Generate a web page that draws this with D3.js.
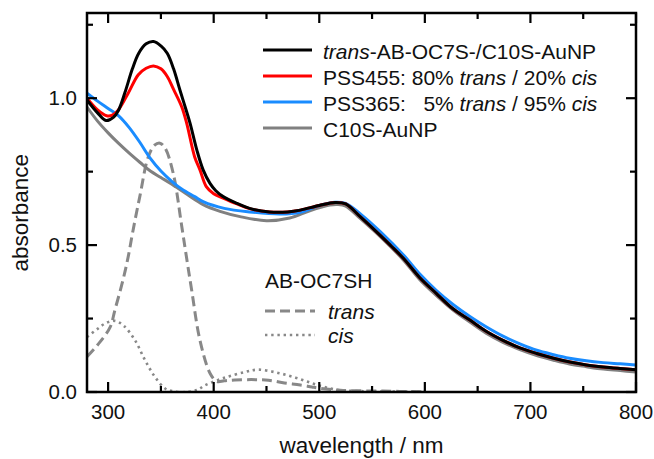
<!DOCTYPE html>
<html>
<head>
<meta charset="utf-8">
<script src="https://cdn.jsdelivr.net/npm/d3@7"></script>
<style>
  body { margin: 0; background: #fff; }
  text { font-family: Arial, "Liberation Sans", sans-serif; }
</style>
</head>
<body>
<svg id="chart"></svg>
<script>
// spectra: [wavelength nm, absorbance]
let transAuNP = [[280,0.994],[290,0.95],[298,0.924],[305,0.935],[310,0.96],[316,1.02],[323,1.1],[329,1.153],[336,1.185],[343,1.193],[350,1.178],[356,1.153],[362,1.1],[368,1.028],[373,0.97],[377.6,0.915],[384,0.824],[390,0.756],[396.5,0.71],[402,0.685],[409,0.665],[422,0.642],[434,0.625],[453,0.613],[470,0.613],[482,0.619],[500,0.635],[515,0.645],[525,0.64],[539,0.596],[557.5,0.534],[568,0.497],[579.6,0.455],[595,0.39],[611,0.335],[626,0.285],[643,0.244],[658,0.207],[674,0.176],[690,0.15],[706,0.131],[722,0.115],[737.5,0.102],[753,0.092],[769,0.085],[785,0.08],[800,0.076]];
let pss455 = [[280,1.0],[290,0.96],[298.6,0.94],[304,0.942],[309.7,0.96],[319,1.017],[328.6,1.08],[336,1.102],[343,1.11],[350,1.1],[356,1.074],[362,1.03],[369.7,0.971],[374.4,0.915],[382,0.8],[387,0.756],[393,0.699],[400,0.675],[409,0.66],[422,0.64],[434,0.624],[453,0.613],[470,0.613],[482,0.619],[500,0.635],[515,0.645],[525,0.64],[539,0.596],[557.5,0.534],[568,0.497],[579.6,0.455],[595,0.39],[611,0.335],[626,0.285],[643,0.244],[658,0.207],[674,0.176],[690,0.15],[706,0.131],[722,0.115],[737.5,0.102],[753,0.092],[769,0.085],[785,0.08],[800,0.076]];
let pss365 = [[280,1.017],[290,0.99],[300,0.965],[310,0.94],[320,0.9],[330,0.85],[340,0.795],[350,0.752],[360,0.718],[370,0.69],[382,0.665],[390,0.648],[410,0.625],[434,0.613],[463,0.606],[482,0.612],[500,0.635],[515,0.646],[525,0.642],[540,0.603],[558,0.545],[580,0.465],[595,0.402],[611,0.345],[627,0.297],[643,0.256],[658,0.222],[674,0.19],[690,0.164],[706,0.142],[722,0.127],[737,0.115],[753,0.106],[769,0.1],[785,0.096],[800,0.092]];
let auNP = [[280,0.97],[290,0.922],[300,0.882],[310,0.846],[320,0.813],[330,0.782],[340,0.752],[350,0.73],[360,0.708],[375,0.672],[390,0.638],[406,0.615],[425,0.597],[450,0.583],[472,0.592],[491,0.617],[510,0.636],[517,0.638],[525,0.633],[539,0.59],[558,0.528],[580,0.448],[595,0.383],[611,0.328],[627,0.278],[643,0.237],[658,0.2],[674,0.169],[690,0.144],[706,0.124],[722,0.108],[737,0.095],[753,0.086],[769,0.078],[785,0.073],[800,0.068]];
let transFree = [[280,0.12],[290,0.16],[301.8,0.22],[306.5,0.28],[314,0.38],[319,0.46],[323.6,0.55],[330,0.665],[338,0.8],[344,0.84],[349,0.847],[354,0.83],[361.7,0.744],[369.7,0.565],[374.4,0.455],[379,0.35],[387,0.176],[396.5,0.064],[403,0.036],[410,0.038],[420,0.041],[440,0.042],[452,0.04],[467,0.031],[482,0.024],[493,0.017],[500,0.013],[520,0.006],[560,0.003],[600,0.001]];
let cisFree = [[280,0.187],[290,0.215],[298,0.235],[306.5,0.242],[315,0.225],[325.5,0.176],[335,0.108],[344.4,0.051],[354,0.012],[362,0.002],[375,0.0],[385,0.008],[391.8,0.023],[410.7,0.049],[429.6,0.068],[442,0.076],[461,0.065],[480,0.046],[499,0.023],[518,0.007],[540,0.003],[600,0.001]];

let seriesNames = ["trans-AB-OC7S-/C10S-AuNP", "PSS455: 80% trans / 20% cis", "PSS365:   5% trans / 95% cis", "C10S-AuNP"];
let xTicks = [300, 400, 500, 600, 700, 800];
let yTicks = [0.0, 0.5, 1.0];

let W = 654, H = 459;
let margin = {top: 13, right: 18, bottom: 67, left: 87},
    width = W - margin.left - margin.right,
    height = H - margin.top - margin.bottom;

let svg = d3.select("#chart").attr("width", W).attr("height", H)
    .append("g")
    .attr("transform", "translate(" + margin.left + "," + margin.top + ")");

let x = d3.scaleLinear().domain([280, 800]).range([0, width]);
let y = d3.scaleLinear().domain([0, 1.29]).range([height, 0]);

svg.append("clipPath").attr("id", "clip")
    .append("rect").attr("width", width).attr("height", height);

let line = d3.line()
    .x(d => x(d[0]))
    .y(d => y(d[1]))
    .curve(d3.curveCatmullRom.alpha(0.5));

let plot = svg.append("g").attr("clip-path", "url(#clip)");

// free azobenzene spectra
plot.append("path").datum(cisFree)
    .attr("fill", "none").attr("stroke", "#888").attr("stroke-width", 2.6)
    .attr("stroke-dasharray", "2.4,3.8").attr("d", line);
plot.append("path").datum(transFree)
    .attr("fill", "none").attr("stroke", "#888").attr("stroke-width", 3)
    .attr("stroke-dasharray", "10,5").attr("d", line);

// nanoparticle spectra
let curves = [
    {data: auNP, color: "#808080"},
    {data: pss365, color: "#1a8cff"},
    {data: pss455, color: "#ff0000"},
    {data: transAuNP, color: "#000000"}
];
curves.forEach(c => {
    plot.append("path").datum(c.data)
        .attr("fill", "none").attr("stroke", c.color).attr("stroke-width", 3)
        .attr("stroke-linejoin", "round").attr("d", line);
});

// ticks, inward on all four sides
let xMinor = d3.range(300, 801, 50);
let yMinor = d3.range(0, 1.26, 0.25);
function tickLen(v, major) { return major.some(m => Math.abs(m - v) < 1e-6) ? 10 : 6; }

xMinor.forEach(v => {
    let L = tickLen(v, xTicks);
    svg.append("line").attr("x1", x(v)).attr("x2", x(v)).attr("y1", height).attr("y2", height - L)
        .attr("stroke", "#000").attr("stroke-width", 2.2);
    svg.append("line").attr("x1", x(v)).attr("x2", x(v)).attr("y1", 0).attr("y2", L)
        .attr("stroke", "#000").attr("stroke-width", 2.2);
});
yMinor.forEach(v => {
    let L = tickLen(v, yTicks);
    svg.append("line").attr("x1", 0).attr("x2", L).attr("y1", y(v)).attr("y2", y(v))
        .attr("stroke", "#000").attr("stroke-width", 2.2);
    svg.append("line").attr("x1", width).attr("x2", width - L).attr("y1", y(v)).attr("y2", y(v))
        .attr("stroke", "#000").attr("stroke-width", 2.2);
});

// frame
svg.append("rect").attr("width", width).attr("height", height)
    .attr("fill", "none").attr("stroke", "#000").attr("stroke-width", 2.5);

// tick labels
svg.selectAll(".xl").data(xTicks).enter().append("text")
    .attr("x", d => x(d)).attr("y", height + 27)
    .style("text-anchor", "middle").style("font-size", "20.5px").style("fill", "#111")
    .text(d => d);
svg.selectAll(".yl").data(yTicks).enter().append("text")
    .attr("x", -10).attr("y", d => y(d) + 7)
    .style("text-anchor", "end").style("font-size", "20.5px").style("fill", "#111")
    .text(d => d.toFixed(1));

// axis titles
svg.append("text")
    .attr("x", width / 2).attr("y", height + 61)
    .style("text-anchor", "middle").style("font-size", "22.5px").style("fill", "#111")
    .text("wavelength / nm");
svg.append("text")
    .attr("transform", "rotate(-90)")
    .attr("x", -(y(0.61))).attr("y", -59)
    .style("text-anchor", "middle").style("font-size", "22.5px").style("fill", "#111")
    .text("absorbance");

// legend for nanoparticle curves
let legColors = ["#000000", "#ff0000", "#1a8cff", "#808080"];
let lx = 176, ly = 37, dy = 26;
let legend = svg.append("g");
seriesNames.forEach((name, i) => {
    let yy = ly + i * dy;
    legend.append("line").attr("x1", lx).attr("x2", lx + 49).attr("y1", yy).attr("y2", yy)
        .attr("stroke", legColors[i]).attr("stroke-width", 3);
    let t = legend.append("text").attr("x", lx + 60).attr("y", yy + 8.5)
        .style("font-size", "21px").style("white-space", "pre").style("fill", "#111");
    // italicize trans / cis
    let parts = name.split(/(trans|cis)/);
    parts.forEach(p => {
        if (p === "") return;
        t.append("tspan").style("font-style", (p === "trans" || p === "cis") ? "italic" : "normal").text(p);
    });
});

// legend for free ligand
let gx = 178, gy = 275;
legend.append("text").attr("x", gx).attr("y", gy)
    .style("font-size", "21px").style("fill", "#111").text("AB-OC7SH");
legend.append("line").attr("x1", gx).attr("x2", gx + 50).attr("y1", gy + 23).attr("y2", gy + 23)
    .attr("stroke", "#888").attr("stroke-width", 3).attr("stroke-dasharray", "10,5");
legend.append("text").attr("x", gx + 63).attr("y", gy + 31)
    .style("font-size", "21px").style("font-style", "italic").style("fill", "#111").text("trans");
legend.append("line").attr("x1", gx).attr("x2", gx + 50).attr("y1", gy + 47).attr("y2", gy + 47)
    .attr("stroke", "#888").attr("stroke-width", 2.6).attr("stroke-dasharray", "2.4,3.8");
legend.append("text").attr("x", gx + 63).attr("y", gy + 55)
    .style("font-size", "21px").style("font-style", "italic").style("fill", "#111").text("cis");
</script>
</body>
</html>
